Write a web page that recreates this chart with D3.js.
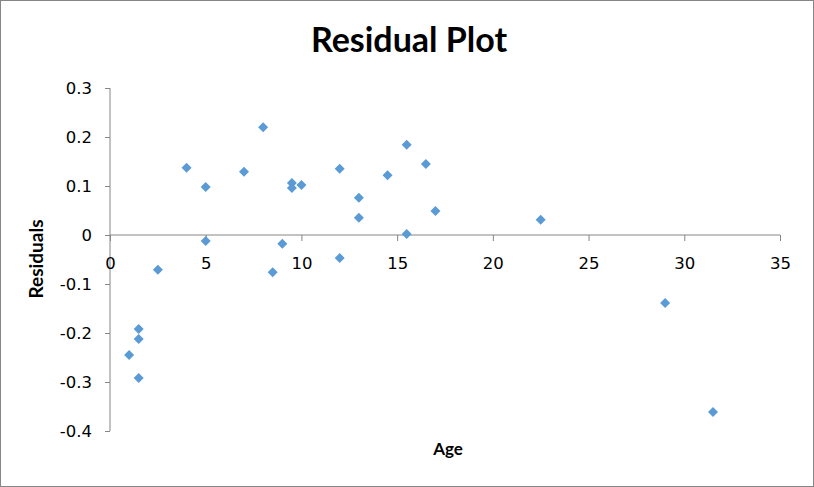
<!DOCTYPE html>
<html><head><meta charset="utf-8">
<script src="https://cdn.jsdelivr.net/npm/d3@7"></script>
<style>body{margin:0;background:#fff}svg{display:block}</style>
</head><body>
<script>
const ages = [1,1.5,1.5,1.5,2.5,4,5,5,7,8,8.5,9,9.5,9.5,10,12,12,13,13,14.5,15.5,15.5,16.5,17,22.5,29,31.5];
const residuals = [-0.245,-0.192,-0.212,-0.292,-0.071,0.137,0.098,-0.012,0.129,0.22,-0.076,-0.018,0.106,0.096,0.102,0.135,-0.047,0.076,0.035,0.122,0.184,0.002,0.145,0.049,0.031,-0.139,-0.361];
const xTicks = [0,5,10,15,20,25,30,35];
const yTicks = [0.3,0.2,0.1,0,-0.1,-0.2,-0.3,-0.4];
const yTickLabels = ["0.3","0.2","0.1","0","-0.1","-0.2","-0.3","-0.4"];
const title = "Residual Plot", xTitle = "Age", yTitle = "Residuals";

const W = 814, H = 487;
const svg = d3.select("body").append("svg").attr("width", W).attr("height", H);
svg.append("rect").attr("x",0.5).attr("y",0.5).attr("width",W-1).attr("height",H-1)
  .attr("fill","#fff").attr("stroke","#868686");

const x = d3.scaleLinear().domain([0,35]).range([110,780]);
const y = d3.scaleLinear().domain([-0.4,0.3]).range([431,88]);
const tickFont = "'DejaVu Sans', sans-serif";
const titleFont = "Lato, 'Open Sans', sans-serif";
const axisColor = "#868686";

// y axis
const yAxis = svg.append("g").attr("transform", `translate(${x(0)},0)`)
  .call(d3.axisLeft(y).tickValues(yTicks).tickSize(5).tickPadding(13)
    .tickFormat((d,i) => yTickLabels[i]));
yAxis.selectAll("path,line").attr("stroke", axisColor);
yAxis.selectAll("text").attr("font-family", tickFont).attr("font-size", 16.5).attr("fill","#000");
yAxis.select(".domain").attr("d", `M0,${y(0.3)}V${y(-0.4)}`);

// x axis at y=0
const xAxis = svg.append("g").attr("transform", `translate(0,${y(0)})`)
  .call(d3.axisBottom(x).tickValues(xTicks).tickSize(6).tickPadding(16));
xAxis.selectAll("path,line").attr("stroke", axisColor);
xAxis.selectAll("text").attr("font-family", tickFont).attr("font-size", 16.5).attr("fill","#000");
xAxis.select(".domain").attr("d", `M${x(0)},0H${x(35)}`);

// points
const diamond = "M0,-5L5,0L0,5L-5,0Z";
svg.append("g").selectAll("path").data(ages.map((a,i)=>[a,residuals[i]])).join("path")
  .attr("d", diamond)
  .attr("transform", d => `translate(${x(d[0])},${y(d[1])})`)
  .attr("fill", "#5b9bd5");

// titles
svg.append("text").attr("x", 409).attr("y", 52).attr("text-anchor","middle")
  .attr("font-family", titleFont).attr("font-weight","bold").attr("font-size", 34).text(title);
svg.append("text").attr("x", 448).attr("y", 455).attr("text-anchor","middle")
  .attr("font-family", titleFont).attr("font-weight","bold").attr("font-size", 17).text(xTitle);
svg.append("text").attr("transform","translate(43,259) rotate(-90)").attr("text-anchor","middle")
  .attr("font-family", titleFont).attr("font-weight","bold").attr("font-size", 19).text(yTitle);
</script>
</body></html>
